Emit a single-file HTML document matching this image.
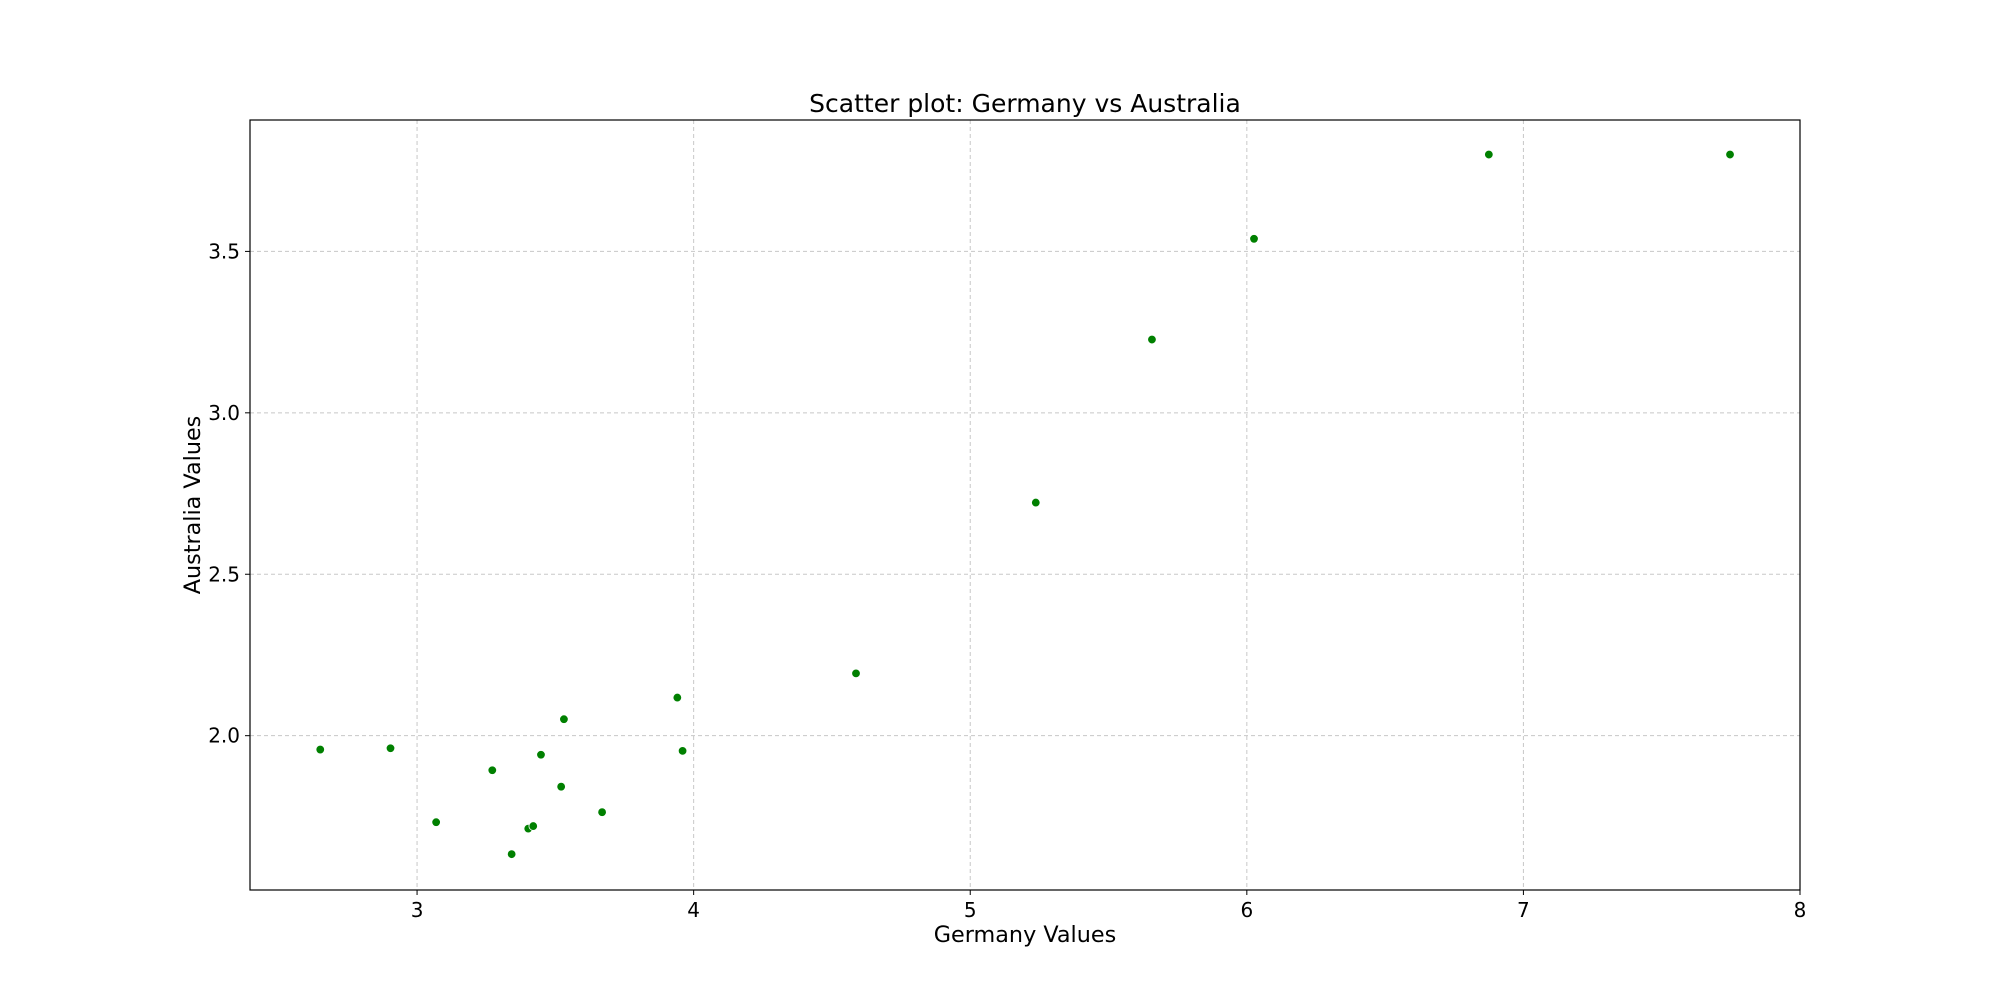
<!DOCTYPE html>
<html><head><meta charset="utf-8"><style>
html,body{margin:0;padding:0;background:#fff;}
svg text{font-family:"DejaVu Sans","Liberation Sans",sans-serif;fill:#000;}
</style></head><body>
<svg id="chart" width="2000" height="1000" xmlns="http://www.w3.org/2000/svg">
<rect width="2000" height="1000" fill="#fff"/>
<g id="grid"></g><g id="pts"></g><g id="axes"></g>
</svg>
<script>
const germanyValues=[2.650,2.904,3.069,3.272,3.342,3.402,3.420,3.448,3.521,3.531,3.669,3.941,3.960,4.587,5.237,5.657,6.026,6.875,7.747];
const australiaValues=[1.957,1.961,1.732,1.893,1.633,1.712,1.720,1.941,1.842,2.051,1.763,2.118,1.953,2.193,2.722,3.227,3.539,3.800,3.800];
const xTicks=[3,4,5,6,7,8];
const yTicks=[2.0,2.5,3.0,3.5];
const yTickLabels=["2.0","2.5","3.0","3.5"];
const L=250,R=1800,T=120,B=890,xmin=2.396,xmax=8.0,ymin=1.522,ymax=3.907;
const sx=v=>L+(v-xmin)/(xmax-xmin)*(R-L);
const sy=v=>B-(v-ymin)/(ymax-ymin)*(B-T);
const NS="http://www.w3.org/2000/svg";
function mk(tag,attrs,parent){const e=document.createElementNS(NS,tag);for(const k in attrs)e.setAttribute(k,attrs[k]);parent.appendChild(e);return e;}
const grid=document.getElementById('grid'),pts=document.getElementById('pts'),axes=document.getElementById('axes');
xTicks.forEach(t=>{
 const g=mk('line',{x1:sx(t),x2:sx(t),y1:T,y2:B,stroke:'#c8c8c8','stroke-width':1,'stroke-dasharray':'4,3'},grid);
 
 
 mk('line',{x1:sx(t),x2:sx(t),y1:B,y2:B+5,stroke:'#000','stroke-width':1},axes);
 const tx=mk('text',{x:sx(t),y:B+27,'text-anchor':'middle','font-size':20},axes);tx.textContent=t;
 
 
});
yTicks.forEach((t,i)=>{
 const g=mk('line',{x1:L,x2:R,y1:sy(t),y2:sy(t),stroke:'#c8c8c8','stroke-width':1,'stroke-dasharray':'4,3'},grid);
 
 
 mk('line',{x1:L-5,x2:L,y1:sy(t),y2:sy(t),stroke:'#000','stroke-width':1},axes);
 const tx=mk('text',{x:L-10,y:sy(t)+7,'text-anchor':'end','font-size':20},axes);tx.textContent=yTickLabels[i];
 
 
});
germanyValues.forEach((v,i)=>{
 const c=mk('circle',{cx:sx(v),cy:sy(australiaValues[i]),r:4.3,fill:'#008000',stroke:'#fff','stroke-width':0.8},pts);
 
 
});
const fr=mk('rect',{x:L,y:T,width:R-L,height:B-T,fill:'none',stroke:'#000','stroke-width':1.2},axes);


const ti=mk('text',{x:(L+R)/2,y:112,'text-anchor':'middle','font-size':25},axes);ti.textContent='Scatter plot: Germany vs Australia';


const xl=mk('text',{x:(L+R)/2,y:942,'text-anchor':'middle','font-size':22.3},axes);xl.textContent='Germany Values';


const yl=mk('text',{x:0,y:0,'text-anchor':'middle','font-size':22.3,transform:'translate(200,505) rotate(-90)'},axes);yl.textContent='Australia Values';


</script>
</body></html>
